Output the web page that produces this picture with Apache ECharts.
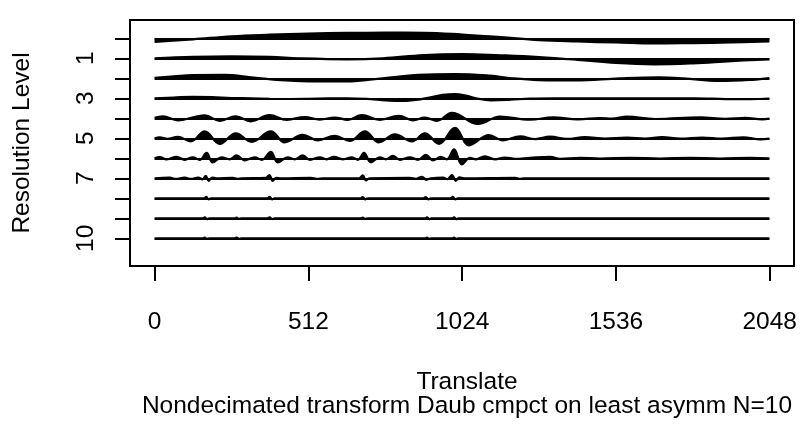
<!DOCTYPE html>
<html><head><meta charset="utf-8">
<script src="https://cdn.jsdelivr.net/npm/echarts@6/dist/echarts.min.js"></script>
<style>html,body{margin:0;padding:0;background:#fff}#c{width:809px;height:424px}</style>
</head><body><div id="c"></div>
<script>
// Tick labels
const xTicks = [0, 512, 1024, 1536, 2048];
const yTickLevels = [0, 1, 2, 3, 4, 5, 6, 7, 8, 9, 10];
const yLabelLevels = [1, 3, 5, 7, 10];

// Coefficients per resolution level: [translate, coefficient]
const level0 = [[0,-3.5],[128,-1],[256,2],[384,3.6],[512,4.7],[640,5.4],[768,5.6],[896,5.5],[1024,3.8],[1152,1.2],[1280,-1.8],[1408,-3.2],[1536,-4.2],[1664,-5.2],[1792,-4.8],[1920,-4.2],[2047,-3.2]];
const level1 = [[0,0],[128,1.5],[256,2],[384,1.5],[480,0],[640,-1],[760,0],[896,3.3],[1024,4.3],[1152,3],[1280,1.2],[1408,-1.5],[1536,-4.7],[1664,-6],[1792,-5],[1920,-2.8],[2047,-1]];
const level2 = [[0,0.5],[64,2],[128,3.3],[230,3.5],[330,0.8],[420,-1.8],[512,-3],[640,-3.2],[760,0],[880,3.5],[1000,4.3],[1117,2.6],[1190,0],[1280,-1.8],[1400,-2.2],[1550,0],[1680,1],[1760,0],[1880,-2.7],[1990,-1.5],[2047,0.2]];
const level3 = [[0,0],[64,0.8],[128,1.5],[192,1.2],[256,0.2],[320,0],[384,-0.5],[448,-0.7],[512,-0.5],[576,-0.1],[640,0],[704,-0.5],[770,-2],[820,-2.7],[870,-1.5],[910,0.5],[960,3.5],[1000,4.3],[1040,2.5],[1070,0],[1120,-2],[1180,-1.5],[1250,-0.3],[1330,0],[1800,0],[1856,-0.3],[1920,-0.8],[1984,-0.8],[2047,-0.2]];
const level4 = [[0,0.5],[27,2],[77,-2],[167,3],[217,-2.5],[270,2],[320,-3],[383,3.3],[440,-1.5],[500,1.3],[550,-1.3],[600,0.8],[643,-1.5],[690,3.2],[750,-1.5],[813,2.5],[860,-2],[900,0.8],[940,-2.5],[990,5.5],[1077,-5.7],[1150,1.8],[1250,-1.4],[1327,1],[1410,-1],[1483,0.3],[1523,-0.3],[1573,1.6],[1667,-0.7],[1817,1],[1900,-0.5],[1967,0.5],[2023,-1],[2047,-0.3]];
const level5 = [[0,0],[17,1],[43,-0.5],[77,1.5],[120,-3],[167,7],[217,-5.5],[270,5],[323,-3.5],[387,7],[433,-4],[493,3.5],[543,-2],[600,2.5],[650,-2.5],[700,7],[747,-4],[800,4],[857,-3],[900,5],[947,-5.5],[1000,10.5],[1047,-7],[1113,3.3],[1160,-2],[1217,2],[1267,-0.8],[1317,1.6],[1373,-0.6],[1433,1.2],[1500,-0.3],[1573,0.6],[1633,-0.3],[1690,1.2],[1750,-0.3],[1823,0.8],[1890,-0.3],[1960,1],[2017,-1],[2047,-0.3]];
const level6 = [[0,0],[17,1.2],[40,-1],[73,1.5],[100,-1.5],[127,1],[150,-1.5],[173,5.5],[193,-4],[223,1],[250,-1],[273,3],[300,-2],[333,1],[357,-1.5],[387,6.5],[410,-4],[443,1],[467,-1],[493,3],[517,-1.5],[550,1],[573,-1],[597,1.5],[627,-1],[657,1],[677,-1.5],[697,5.5],[720,-4],[750,1],[770,-1],[793,2.5],[817,-1.5],[850,1],[877,-1.5],[903,3.5],[927,-2],[953,1.5],[973,-1],[997,9],[1023,-6],[1050,0.5],[1070,-1],[1100,2],[1133,-1],[1167,0.8],[1200,-0.5],[1250,0.5],[1317,1.5],[1350,-0.5],[1417,0.5],[1483,-0.3],[1583,0.5],[1683,-0.3],[1783,0.5],[1883,-0.3],[1983,0.5],[2047,0]];
const level7 = [[0,0],[50,0.6],[70,-0.6],[100,0.6],[120,-0.6],[145,0.8],[160,-1],[170,2.5],[180,-2.5],[192,0.8],[205,0],[260,0.5],[275,-0.5],[290,0],[370,0.4],[382,3.3],[393,-2.5],[405,0.5],[420,0],[520,0.5],[540,-0.5],[560,0],[680,0],[693,3],[704,-2],[715,0],[850,0.5],[870,-0.5],[890,1.5],[905,-1.5],[920,0],[960,0.8],[975,-0.8],[990,3.3],[1003,-2.5],[1015,1],[1030,0],[1200,0.5],[1215,-0.5],[1230,0],[2047,0]];
const level8 = [[0,0],[165,0],[172,1.5],[180,-1.2],[188,0],[375,0],[383,1.5],[391,-1],[400,0],[685,0],[693,1.3],[701,-1],[710,0],[895,0],[903,1.2],[911,-1],[920,0],[985,0],[993,1.5],[1001,-1.2],[1010,0],[2047,0]];
const level9 = [[0,0],[160,0],[167,1],[174,-0.8],[182,0],[265,0],[273,0.8],[281,-0.6],[290,0],[375,0],[383,1],[391,-0.8],[400,0],[685,0],[693,0.8],[701,-0.6],[710,0],[900,0],[907,1],[914,-0.8],[922,0],[990,0],[997,1],[1004,-0.8],[1012,0],[2047,0]];
const level10 = [[0,0],[160,0],[167,0.7],[174,-0.6],[182,0],[265,0],[273,0.7],[281,-0.5],[290,0],[900,0],[907,0.8],[914,-0.6],[922,0],[990,0],[997,0.8],[1004,-0.6],[1012,0],[2047,0]];

const coefByLevel = [level0, level1, level2, level3, level4, level5, level6, level7, level8, level9, level10];
const COEF_SCALE = 0.05; // coefficient -> level units
const LAST = 2047;

const FONT = 'Liberation Sans';
const FS = 24.5;
const series = coefByLevel.map((pts, L) => ({
  type: 'line',
  data: pts.map(p => [p[0], L - p[1] * COEF_SCALE]),
  smooth: 0.4,
  symbol: 'none',
  silent: true,
  animation: false,
  lineStyle: { color: '#000', width: 2.2 },
  areaStyle: { color: '#000', opacity: 1, origin: L },
  markLine: {
    silent: true, symbol: 'none', animation: false,
    label: { show: false },
    lineStyle: { color: '#000', width: 2.2, type: 'solid' },
    data: [[{ coord: [0, L] }, { coord: [LAST, L] }]]
  }
}));

const chart = echarts.init(document.getElementById('c'), null, { renderer: 'canvas' });
chart.setOption({
  animation: false,
  backgroundColor: '#fff',
  grid: { left: 130, right: 15, top: 20, bottom: 158, show: true, borderColor: '#000', borderWidth: 2, backgroundColor: 'transparent' },
  title: [
    { text: 'Translate', left: 462, top: 365, textAlign: 'center', textStyle: { fontFamily: FONT, fontSize: FS, fontWeight: 'normal', color: '#000' } },
    { text: 'Nondecimated transform Daub cmpct on least asymm N=10', left: 462, top: 389, textAlign: 'center', textStyle: { fontFamily: FONT, fontSize: FS, fontWeight: 'normal', color: '#000' } }
  ],
  xAxis: {
    type: 'value', min: -82, max: 2129,
    axisLine: { show: false, onZero: false },
    splitLine: { show: false },
    axisTick: { show: true, length: 15, lineStyle: { color: '#000', width: 2 }, customValues: xTicks },
    axisLabel: { customValues: xTicks, formatter: v => String(v), fontFamily: FONT, fontSize: FS, color: '#000', margin: 44 }
  },
  yAxis: {
    type: 'value', inverse: true, min: -0.915, max: 11.385,
    name: 'Resolution Level', nameLocation: 'middle', nameGap: 95,
    nameTextStyle: { fontFamily: FONT, fontSize: FS, color: '#000' },
    axisLine: { show: false, onZero: false },
    splitLine: { show: false },
    axisTick: { show: true, length: 15, lineStyle: { color: '#000', width: 2 }, customValues: yTickLevels },
    axisLabel: { customValues: yLabelLevels, formatter: v => String(v), rotate: 90, fontFamily: FONT, fontSize: FS, color: '#000', margin: 31 }
  },
  series: series
});
</script>
</body></html>
